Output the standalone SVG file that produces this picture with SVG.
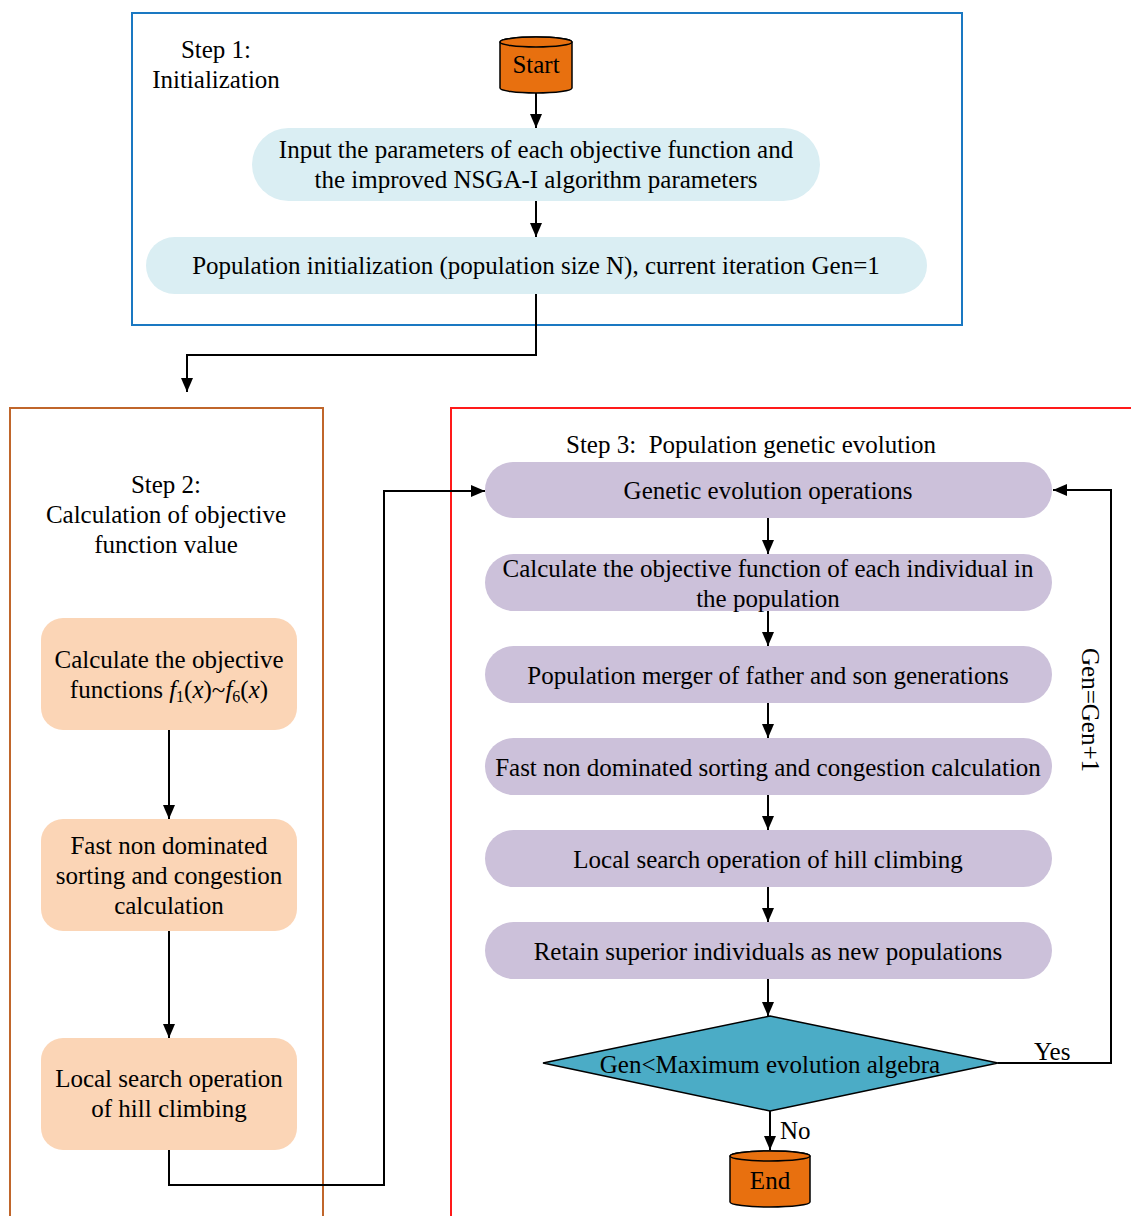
<svg xmlns="http://www.w3.org/2000/svg" width="1131" height="1216" viewBox="0 0 1131 1216" font-family="'Liberation Serif', 'DejaVu Serif', serif">
  <style>
    text { font-family: 'Liberation Serif', 'DejaVu Serif', serif; font-size: 25px; fill: #000; text-anchor: middle; }
    .left { text-anchor: start; }
    .blue { fill: #daeef3; }
    .peach { fill: #fbd5b6; }
    .lilac { fill: #ccc1da; }
    .cyl { fill: #e8700f; stroke: #000; stroke-width: 1.5; }
    .dia { fill: #4bacc6; stroke: #000; stroke-width: 1.5; }
    .frame { fill: none; stroke-width: 2; }
    .conn { fill: none; stroke: #000; stroke-width: 2; }
    .i { font-style: italic; }
  </style>
  <defs>
    <marker id="arrow" viewBox="0 0 14 12" refX="14" refY="6" markerWidth="14" markerHeight="12" markerUnits="userSpaceOnUse" orient="auto">
      <path d="M0,0 L14,6 L0,12 Z" fill="#000"/>
    </marker>
  </defs>

  <rect width="1131" height="1216" fill="#fff"/>

  <!-- stage frames -->
  <g id="frames">
    <rect id="frame-step1" class="frame" x="132" y="13" width="830" height="312" stroke="#1a78c2"/>
    <rect id="frame-step2" class="frame" x="10" y="408" width="313" height="820" stroke="#c0662b"/>
    <rect id="frame-step3" class="frame" x="451" y="408" width="700" height="820" stroke="#ff1a1a"/>
  </g>

  <!-- stage titles -->
  <g id="titles">
    <text x="216" y="58">Step 1:</text>
    <text x="216" y="88">Initialization</text>
    <text x="166" y="493">Step 2:</text>
    <text x="166" y="523">Calculation of objective</text>
    <text x="166" y="553">function value</text>
    <text class="left" x="566" y="453" xml:space="preserve">Step 3:  Population genetic evolution</text>
  </g>

  <!-- connectors -->
  <g id="connectors">
    <line class="conn" x1="536" y1="93" x2="536" y2="128" marker-end="url(#arrow)"/>
    <line class="conn" x1="536" y1="201" x2="536" y2="237" marker-end="url(#arrow)"/>
    <polyline class="conn" points="536,294 536,355 187,355 187,392" marker-end="url(#arrow)"/>
    <line class="conn" x1="169" y1="730" x2="169" y2="819" marker-end="url(#arrow)"/>
    <line class="conn" x1="169" y1="931" x2="169" y2="1038" marker-end="url(#arrow)"/>
    <polyline class="conn" points="169,1150 169,1185 384,1185 384,491 485,491" marker-end="url(#arrow)"/>
    <line class="conn" x1="768" y1="518" x2="768" y2="554" marker-end="url(#arrow)"/>
    <line class="conn" x1="768" y1="611" x2="768" y2="646" marker-end="url(#arrow)"/>
    <line class="conn" x1="768" y1="703" x2="768" y2="738" marker-end="url(#arrow)"/>
    <line class="conn" x1="768" y1="795" x2="768" y2="830" marker-end="url(#arrow)"/>
    <line class="conn" x1="768" y1="887" x2="768" y2="922" marker-end="url(#arrow)"/>
    <line class="conn" x1="768" y1="979" x2="768" y2="1016" marker-end="url(#arrow)"/>
    <line class="conn" x1="770" y1="1111" x2="770" y2="1150" marker-end="url(#arrow)"/>
    <polyline class="conn" points="998,1063 1111,1063 1111,490 1053,490" marker-end="url(#arrow)"/>
    <text class="left" x="780" y="1139">No</text>
    <text class="left" x="1034" y="1060">Yes</text>
    <text transform="translate(1082,710) rotate(90)">Gen=Gen+1</text>
  </g>

  <!-- step 1 nodes -->
  <g id="start">
    <path class="cyl" d="M500,42 L500,88 A36,5 0 0 0 572,88 L572,42 A36,5 0 0 0 500,42 Z"/>
    <ellipse class="cyl" cx="536" cy="42" rx="36" ry="5"/>
    <text x="536" y="73">Start</text>
  </g>
  <g id="input-params">
    <rect class="blue" x="252" y="128" width="568" height="73" rx="36.5"/>
    <text x="536" y="158">Input the parameters of each objective function and</text>
    <text x="536" y="188">the improved NSGA-I algorithm parameters</text>
  </g>
  <g id="population-init">
    <rect class="blue" x="146" y="237" width="781" height="57" rx="28.5"/>
    <text x="536" y="274">Population initialization (population size N), current iteration Gen=1</text>
  </g>

  <!-- step 2 nodes -->
  <g id="calc-objectives">
    <rect class="peach" x="41" y="618" width="256" height="112" rx="22"/>
    <text x="169" y="668">Calculate the objective</text>
    <text x="169" y="698">functions <tspan class="i">f</tspan><tspan font-size="16" dy="4">1</tspan><tspan dy="-4">(</tspan><tspan class="i">x</tspan>)~<tspan class="i">f</tspan><tspan font-size="16" dy="4">6</tspan><tspan dy="-4">(</tspan><tspan class="i">x</tspan>)</text>
  </g>
  <g id="sorting-step2">
    <rect class="peach" x="41" y="819" width="256" height="112" rx="22"/>
    <text x="169" y="854">Fast non dominated</text>
    <text x="169" y="884">sorting and congestion</text>
    <text x="169" y="914">calculation</text>
  </g>
  <g id="hill-step2">
    <rect class="peach" x="41" y="1038" width="256" height="112" rx="22"/>
    <text x="169" y="1087">Local search operation</text>
    <text x="169" y="1117">of hill climbing</text>
  </g>

  <!-- step 3 nodes -->
  <g id="genetic-ops">
    <rect class="lilac" x="485" y="462" width="567" height="56" rx="28"/>
    <text x="768" y="499">Genetic evolution operations</text>
  </g>
  <g id="calc-individuals">
    <rect class="lilac" x="485" y="554" width="567" height="57" rx="28.5"/>
    <text x="768" y="577">Calculate the objective function of each individual in</text>
    <text x="768" y="607">the population</text>
  </g>
  <g id="merge">
    <rect class="lilac" x="485" y="646" width="567" height="57" rx="28.5"/>
    <text x="768" y="684">Population merger of father and son generations</text>
  </g>
  <g id="sorting-step3">
    <rect class="lilac" x="485" y="738" width="567" height="57" rx="28.5"/>
    <text x="768" y="776">Fast non dominated sorting and congestion calculation</text>
  </g>
  <g id="hill-step3">
    <rect class="lilac" x="485" y="830" width="567" height="57" rx="28.5"/>
    <text x="768" y="868">Local search operation of hill climbing</text>
  </g>
  <g id="retain">
    <rect class="lilac" x="485" y="922" width="567" height="57" rx="28.5"/>
    <text x="768" y="960">Retain superior individuals as new populations</text>
  </g>
  <g id="max-gen-check">
    <polygon class="dia" points="770,1016 998,1063 770,1111 543,1063"/>
    <text x="770" y="1073">Gen&lt;Maximum evolution algebra</text>
  </g>
  <g id="end">
    <path class="cyl" d="M730,1156 L730,1202 A40,5 0 0 0 810,1202 L810,1156 A40,5 0 0 0 730,1156 Z"/>
    <ellipse class="cyl" cx="770" cy="1156" rx="40" ry="5"/>
    <text x="770" y="1189">End</text>
  </g>
</svg>
